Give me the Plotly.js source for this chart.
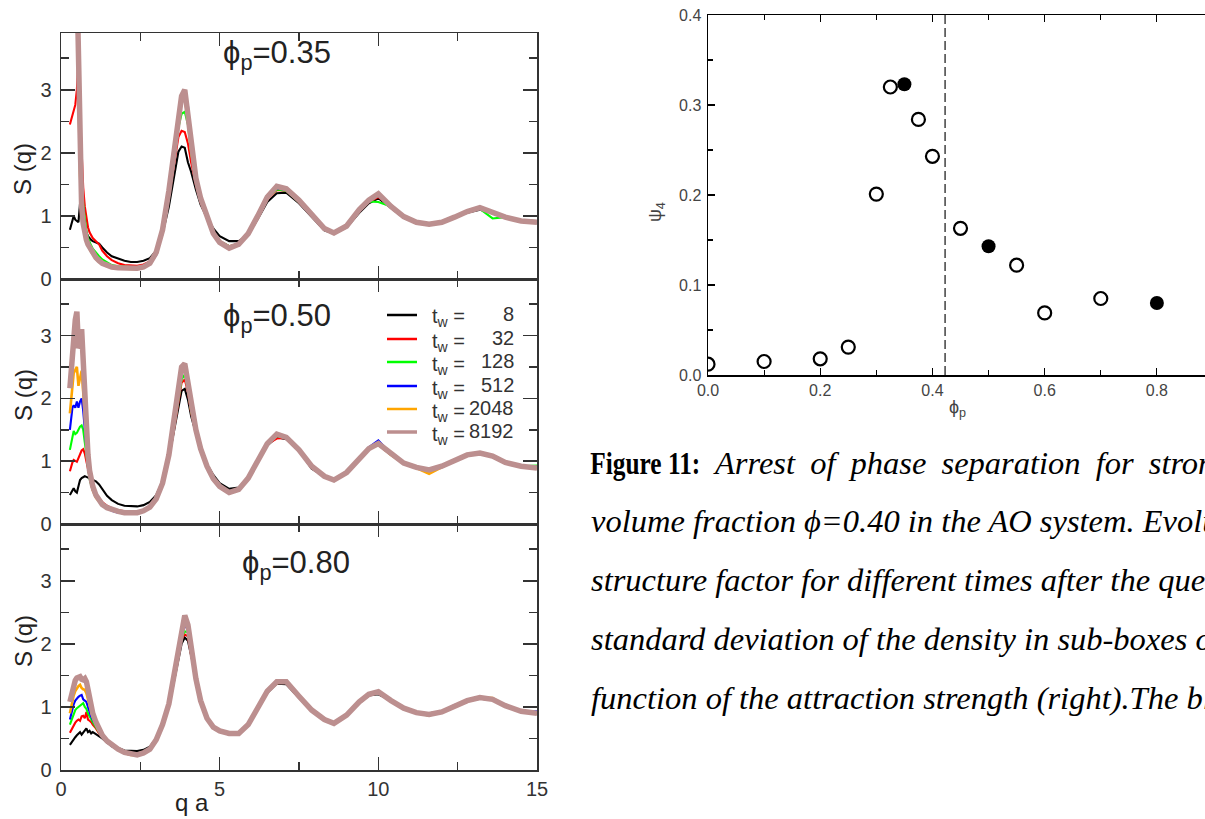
<!DOCTYPE html>
<html><head><meta charset="utf-8">
<script src="https://cdn.plot.ly/plotly-3.0.1.min.js"></script>
<style>html,body{margin:0;padding:0;overflow:hidden;background:#fff;width:1205px;height:819px}</style>
</head><body><div id="chart" style="width:1230px;height:819px"></div>
<script>
// ---------- data ----------
const q = [0.28,0.32,0.36,0.4,0.45,0.5,0.55,0.6,0.65,0.7,0.75,0.8,0.85,0.9,0.95,
 1.0,1.1,1.2,1.3,1.45,
 1.6,1.8,2.0,2.2,2.4,2.6,2.8,
 3.0,3.2,3.4,3.55,3.7,3.8,3.9,4.0,4.1,4.25,4.4,4.6,4.8,
 5.0,5.3,5.6,5.9,6.2,6.5,6.8,7.1,7.5,7.9,8.3,8.6,
 9.0,9.4,9.7,10.0,10.4,10.8,11.2,11.6,12.0,12.4,12.8,13.2,13.6,14.0,14.5,15.0];

const twValues = ['8','32','128','512','2048','8192'];
const twPrefix = 't<sub>w</sub> =';
const panelLabels = ['\u03d5<sub>p</sub>=0.35','\u03d5<sub>p</sub>=0.50','\u03d5<sub>p</sub>=0.80'];

// phi_p = 0.35
const p35_black = [0.78,0.86,0.93,1.0,0.94,0.92,0.9,1.2,1.3,1.05,0.85,0.74,0.68,0.64,0.62,
 0.6,0.58,0.56,0.5,0.42,
 0.36,0.32,0.29,0.27,0.27,0.29,0.33,
 0.45,0.72,1.15,1.6,2.02,2.1,2.08,1.85,1.7,1.42,1.18,0.97,0.8,
 0.68,0.6,0.6,0.7,0.95,1.22,1.36,1.37,1.2,0.98,0.77,0.72,
 0.82,1.05,1.2,1.28,1.13,0.97,0.89,0.87,0.9,0.97,1.05,1.1,1.05,0.98,0.93,0.92];
const p35_red = [2.45,2.52,2.6,2.68,2.76,3.0,3.5,2.6,1.9,1.45,1.15,0.95,0.82,0.74,0.69,
 0.65,0.6,0.55,0.45,0.36,
 0.3,0.25,0.22,0.21,0.21,0.23,0.28,
 0.42,0.75,1.3,1.8,2.25,2.35,2.33,2.15,1.85,1.5,1.22,0.96,0.74,
 0.6,0.52,0.56,0.72,1.0,1.27,1.41,1.4,1.22,1.0,0.79,0.72,
 0.83,1.07,1.22,1.3,1.14,0.98,0.89,0.87,0.9,0.98,1.06,1.11,1.05,0.97,0.92,0.9];
const p35_green = [8,7.6,7.2,6.5,5.5,4.4,3.4,2.4,1.6,1.18,0.92,0.76,0.65,0.58,0.53,
 0.48,0.41,0.36,0.31,0.26,
 0.22,0.2,0.19,0.18,0.18,0.2,0.25,
 0.4,0.74,1.3,1.85,2.4,2.62,2.65,2.45,2.0,1.6,1.27,0.98,0.74,
 0.6,0.52,0.55,0.72,0.99,1.28,1.42,1.4,1.22,1.05,0.8,0.73,
 0.84,1.09,1.23,1.22,1.15,0.98,0.9,0.87,0.9,0.98,1.07,1.11,0.96,0.98,0.92,0.9];
const p35_blue = [9,8.8,8.2,7.2,5.8,4.6,3.3,2.1,1.4,1.02,0.8,0.67,0.58,0.52,0.47,
 0.42,0.35,0.3,0.26,0.22,
 0.19,0.17,0.16,0.16,0.16,0.18,0.23,
 0.38,0.72,1.3,1.9,2.5,2.85,2.95,2.75,2.1,1.63,1.3,0.99,0.74,
 0.59,0.5,0.53,0.72,1.0,1.29,1.44,1.41,1.23,1.04,0.78,0.74,
 0.83,1.08,1.26,1.32,1.14,0.99,0.9,0.86,0.9,0.99,1.06,1.11,1.05,0.99,0.92,0.9];
const p35_orange = [9,9,8.5,7.4,5.9,4.4,2.8,1.65,1.12,0.86,0.7,0.6,0.53,0.48,0.43,
 0.39,0.32,0.27,0.24,0.21,
 0.18,0.17,0.16,0.16,0.16,0.18,0.24,
 0.41,0.76,1.38,1.98,2.55,2.82,2.85,2.55,2.02,1.62,1.27,0.97,0.73,
 0.57,0.5,0.54,0.73,1.01,1.28,1.45,1.42,1.24,1.02,0.79,0.72,
 0.85,1.09,1.24,1.33,1.16,0.98,0.89,0.88,0.91,0.97,1.08,1.12,1.07,0.97,0.93,0.91];
const p35_brown = [9,9,8.6,7.5,6,4.5,2.9,1.7,1.15,0.88,0.72,0.62,0.55,0.5,0.45,
 0.41,0.34,0.29,0.25,0.22,
 0.19,0.18,0.17,0.17,0.17,0.19,0.25,
 0.42,0.78,1.4,2.0,2.6,2.9,3.0,2.6,2.05,1.6,1.28,0.98,0.72,
 0.58,0.49,0.55,0.72,1.0,1.3,1.47,1.43,1.25,1.03,0.8,0.73,
 0.84,1.1,1.25,1.35,1.15,0.99,0.9,0.87,0.9,0.98,1.07,1.13,1.06,0.98,0.92,0.9];

// phi_p = 0.50
const p50_black = [0.46,0.5,0.55,0.57,0.52,0.5,0.6,0.7,0.73,0.75,0.76,0.75,0.74,0.73,0.72,
 0.71,0.68,0.63,0.55,0.45,
 0.38,0.32,0.29,0.28,0.28,0.3,0.35,
 0.46,0.68,1.05,1.45,1.9,2.12,2.15,1.98,1.72,1.43,1.17,0.95,0.78,
 0.65,0.56,0.58,0.74,0.98,1.25,1.38,1.35,1.17,0.88,0.76,0.7,
 0.82,1.04,1.19,1.26,1.1,0.97,0.9,0.87,0.92,1.01,1.09,1.12,1.07,0.98,0.93,0.9];
const p50_red = [0.84,0.92,0.98,1.02,1.0,0.99,1.05,1.12,1.17,1.19,1.12,1.0,0.86,0.74,0.64,
 0.58,0.48,0.41,0.35,0.29,
 0.25,0.22,0.2,0.19,0.2,0.22,0.28,
 0.41,0.65,1.05,1.48,1.95,2.25,2.3,2.1,1.78,1.45,1.18,0.92,0.72,
 0.6,0.51,0.56,0.73,1.0,1.27,1.36,1.37,1.18,0.92,0.76,0.7,
 0.82,1.05,1.2,1.27,1.11,0.97,0.9,0.86,0.92,1.02,1.1,1.13,1.08,0.98,0.92,0.89];
const p50_green = [1.18,1.3,1.4,1.48,1.43,1.45,1.5,1.55,1.57,1.5,1.3,1.08,0.88,0.72,0.62,
 0.55,0.45,0.38,0.32,0.27,
 0.22,0.2,0.18,0.18,0.18,0.21,0.27,
 0.4,0.64,1.05,1.5,2.0,2.3,2.38,2.15,1.8,1.46,1.18,0.92,0.72,
 0.6,0.51,0.55,0.73,1.0,1.27,1.4,1.37,1.18,0.92,0.76,0.7,
 0.82,1.05,1.2,1.27,1.11,0.97,0.9,0.86,0.92,1.02,1.1,1.13,1.08,0.98,0.92,0.93];
const p50_blue = [1.5,1.7,1.85,1.89,1.85,1.95,1.85,1.95,2.0,1.8,1.5,1.18,0.92,0.74,0.62,
 0.54,0.43,0.36,0.31,0.26,
 0.21,0.18,0.17,0.16,0.17,0.2,0.26,
 0.38,0.63,1.05,1.55,2.1,2.4,2.45,2.2,1.82,1.47,1.18,0.92,0.72,
 0.6,0.5,0.55,0.74,1.01,1.3,1.42,1.38,1.2,0.93,0.75,0.7,
 0.83,1.06,1.22,1.33,1.12,0.98,0.9,0.87,0.93,1.02,1.1,1.14,1.08,0.99,0.93,0.9];
const p50_orange = [1.76,2.0,2.25,2.4,2.45,2.5,2.2,2.3,2.44,2.1,1.7,1.3,0.98,0.77,0.63,
 0.54,0.42,0.35,0.3,0.25,
 0.22,0.19,0.17,0.17,0.18,0.2,0.26,
 0.39,0.64,1.08,1.58,2.15,2.45,2.48,2.22,1.83,1.48,1.19,0.93,0.71,
 0.59,0.49,0.54,0.72,1.0,1.27,1.41,1.37,1.17,0.92,0.75,0.69,
 0.82,1.04,1.21,1.27,1.1,0.96,0.89,0.8,0.91,1.01,1.09,1.12,1.07,0.97,0.92,0.89];
const p50_brown = [2.16,2.45,2.8,3.05,3.25,3.38,2.8,2.85,3.1,2.6,2.0,1.5,1.1,0.85,0.7,
 0.6,0.46,0.37,0.31,0.26,
 0.23,0.2,0.18,0.17,0.18,0.21,0.27,
 0.4,0.65,1.1,1.6,2.2,2.5,2.55,2.25,1.85,1.5,1.2,0.92,0.72,
 0.6,0.5,0.55,0.73,1.0,1.28,1.43,1.38,1.18,0.92,0.76,0.7,
 0.82,1.05,1.2,1.28,1.12,0.97,0.9,0.86,0.92,1.02,1.1,1.13,1.08,0.98,0.92,0.89];

// phi_p = 0.80
const p80_black = [0.4,0.43,0.47,0.5,0.52,0.55,0.57,0.6,0.56,0.6,0.62,0.66,0.6,0.62,0.58,
 0.6,0.57,0.54,0.5,0.44,
 0.4,0.35,0.31,0.3,0.3,0.32,0.37,
 0.5,0.72,1.0,1.38,1.8,2.0,2.1,2.05,1.82,1.43,1.1,0.84,0.7,
 0.62,0.56,0.57,0.71,0.98,1.22,1.37,1.36,1.14,0.94,0.8,0.74,
 0.86,1.06,1.18,1.2,1.1,0.97,0.9,0.9,0.93,1.02,1.09,1.13,1.11,1.03,0.94,0.9];
const p80_red = [0.59,0.63,0.68,0.7,0.75,0.78,0.8,0.78,0.85,0.86,0.82,0.92,0.8,0.78,0.76,
 0.72,0.66,0.58,0.52,0.44,
 0.38,0.32,0.27,0.25,0.25,0.28,0.34,
 0.48,0.71,1.02,1.42,1.85,2.08,2.15,2.12,1.83,1.43,1.09,0.82,0.68,
 0.62,0.57,0.58,0.73,1.0,1.24,1.38,1.39,1.17,0.95,0.8,0.74,
 0.86,1.07,1.18,1.22,1.1,0.98,0.9,0.87,0.92,1.02,1.1,1.14,1.12,1.02,0.93,0.9];
const p80_green = [0.72,0.78,0.84,0.9,0.95,0.98,1.0,1.03,1.05,1.06,1.0,0.97,0.9,0.85,0.8,
 0.76,0.68,0.6,0.52,0.44,
 0.38,0.32,0.27,0.24,0.24,0.27,0.33,
 0.47,0.7,1.02,1.42,1.85,2.1,2.2,2.18,1.85,1.44,1.09,0.82,0.68,
 0.62,0.57,0.57,0.72,1.0,1.24,1.39,1.39,1.17,0.95,0.8,0.74,
 0.86,1.07,1.19,1.24,1.1,0.98,0.9,0.86,0.92,1.02,1.1,1.15,1.12,1.02,0.93,0.9];
const p80_blue = [0.8,0.88,0.97,1.04,1.1,1.14,1.16,1.18,1.19,1.12,1.1,1.08,1.0,0.92,0.85,
 0.8,0.7,0.6,0.52,0.44,
 0.38,0.32,0.27,0.24,0.24,0.27,0.33,
 0.47,0.7,1.03,1.45,1.9,2.15,2.3,2.22,1.87,1.44,1.09,0.82,0.68,
 0.63,0.58,0.58,0.72,1.0,1.25,1.39,1.4,1.17,0.95,0.8,0.74,
 0.87,1.07,1.2,1.25,1.1,0.98,0.91,0.88,0.92,1.03,1.09,1.14,1.12,1.02,0.92,0.93];
const p80_orange = [0.9,1.0,1.1,1.18,1.25,1.3,1.33,1.35,1.3,1.28,1.27,1.22,1.12,1.0,0.92,
 0.84,0.72,0.62,0.53,0.45,
 0.39,0.32,0.27,0.24,0.24,0.27,0.33,
 0.48,0.72,1.05,1.48,1.92,2.2,2.38,2.25,1.88,1.45,1.1,0.82,0.68,
 0.62,0.57,0.58,0.72,1.0,1.24,1.38,1.39,1.18,0.94,0.79,0.73,
 0.86,1.07,1.19,1.24,1.1,0.98,0.9,0.87,0.93,1.02,1.1,1.15,1.14,1.02,0.93,0.9];
const p80_brown = [1.08,1.18,1.28,1.35,1.42,1.46,1.47,1.48,1.44,1.43,1.45,1.4,1.28,1.12,1.0,
 0.9,0.76,0.64,0.55,0.46,
 0.4,0.33,0.28,0.25,0.24,0.27,0.33,
 0.48,0.72,1.05,1.5,1.95,2.25,2.45,2.3,1.9,1.45,1.1,0.82,0.68,
 0.62,0.58,0.58,0.72,1.0,1.25,1.4,1.4,1.17,0.95,0.8,0.74,
 0.87,1.08,1.2,1.24,1.1,0.98,0.91,0.88,0.92,1.02,1.1,1.15,1.12,1.02,0.93,0.9];

// right panel: psi_4 vs phi_p
const phiOpen = [0.0,0.1,0.2,0.25,0.3,0.325,0.375,0.4,0.45,0.55,0.6,0.7];
const psiOpen = [0.012,0.015,0.018,0.031,0.201,0.320,0.284,0.243,0.163,0.122,0.069,0.085];
const phiFilled = [0.35,0.5,0.8];
const psiFilled = [0.323,0.143,0.080];
const phiDash = [0.4225,0.4225];
const psiDash = [0,0.4];

const captionBold = 'Figure 11:';
const captionLines = [
 'Arrest of phase separation for strong attraction at colloid',
 'volume fraction \u03d5=0.40 in the AO system. Evolution of the',
 'structure factor for different times after the quench (left),',
 'standard deviation of the density in sub-boxes of size 5 as a',
 'function of the attraction strength (right).The black symbols'
];

// ---------- styles / geometry ----------
const W = 1230, H = 819;
const px = v => v / W, py = v => 1 - v / H;
const colors = ['#000000','#ff0000','#00ff00','#0000ff','#ffa500','#bc8f8f'];
const widths = [2.1,2.1,2.1,2.1,2.6,5.5];
const legendWidths = [2.5,2.5,2.5,2.5,2.5,3.5];
const panelSeries = [
  [p35_black,p35_red,p35_green,p35_blue,p35_orange,p35_brown],
  [p50_black,p50_red,p50_green,p50_blue,p50_orange,p50_brown],
  [p80_black,p80_red,p80_green,p80_blue,p80_orange,p80_brown]
];
const panelAxes = [['x3','y3'],['x2','y2'],['x','y']];

const traces = [];
panelSeries.forEach((ser, pi) => {
  ser.forEach((s, si) => {
    traces.push({
      x: q, y: s, type: 'scatter', mode: 'lines',
      xaxis: panelAxes[pi][0], yaxis: panelAxes[pi][1],
      line: {color: colors[si], width: widths[si]},
      name: twPrefix + ' ' + twValues[si], showlegend: false, hoverinfo: 'skip'
    });
  });
});
traces.push({x: phiDash, y: psiDash, xaxis: 'x4', yaxis: 'y4', type: 'scatter', mode: 'lines',
  line: {color: '#111', width: 1.2, dash: '9px,4px'}, showlegend: false});
traces.push({x: phiOpen, y: psiOpen, xaxis: 'x4', yaxis: 'y4', type: 'scatter', mode: 'markers',
  marker: {symbol: 'circle-open', size: 13, color: '#000', line: {width: 2.2, color: '#000'}}, showlegend: false});
traces.push({x: phiFilled, y: psiFilled, xaxis: 'x4', yaxis: 'y4', type: 'scatter', mode: 'markers',
  marker: {symbol: 'circle', size: 14, color: '#000'}, showlegend: false});

const leftFont = {family: 'Liberation Sans, Arial, sans-serif', size: 20, color: '#333'};
function leftX(showLabels, anchor) {
  return {domain: [px(61), px(537)], range: [0, 15], anchor: anchor,
    showline: true, linecolor: '#333', linewidth: 1.5, mirror: 'allticks',
    ticks: 'inside', ticklen: 13, tickwidth: 1.5, tickcolor: '#333',
    tick0: 0, dtick: 5, minor: {dtick: 2.5, ticks: 'inside', ticklen: 8, tickwidth: 1.5, tickcolor: '#333'},
    showticklabels: showLabels, tickfont: leftFont, showgrid: false, zeroline: false};
}
function leftY(top, bottom, anchor) {
  return {domain: [py(bottom), py(top)], range: [0, 3.9], anchor: anchor,
    showline: true, linecolor: '#333', linewidth: 1.5, mirror: 'allticks',
    ticks: 'inside', ticklen: 14, tickwidth: 1.5, tickcolor: '#333',
    tick0: 0, dtick: 1, minor: {dtick: 0.5, ticks: 'inside', ticklen: 8, tickwidth: 1.5, tickcolor: '#333'},
    tickfont: leftFont, ticklabelstandoff: 4, showgrid: false, zeroline: false};
}
const rightFont = {family: 'Liberation Sans Narrow, Arial Narrow, Liberation Sans, sans-serif', size: 16, color: '#444'};
const rightTitleFont = {family: 'Liberation Sans Narrow, Arial Narrow, Liberation Sans, sans-serif', size: 18, color: '#444'};

const annotations = [];
const shapes = [];
const titleFont = {family: 'Liberation Sans, Arial, sans-serif', size: 24, color: '#222'};
[169, 395, 641].forEach(yc => annotations.push({text: 'S (q)', xref: 'paper', yref: 'paper',
  x: px(23), y: py(yc), textangle: -90, showarrow: false, font: titleFont, xanchor: 'center', yanchor: 'middle'}));
annotations.push({text: 'q a', xref: 'paper', yref: 'paper', x: px(192), y: py(802), showarrow: false,
  font: titleFont, xanchor: 'center', yanchor: 'middle'});
[[221, 55], [221, 318], [240, 565]].forEach((p, i) => annotations.push({text: panelLabels[i], xref: 'paper', yref: 'paper',
  x: px(p[0]), y: py(p[1]), showarrow: false, xanchor: 'left', yanchor: 'middle',
  font: {family: 'Liberation Sans, Arial, sans-serif', size: 31, color: '#222'}}));

// legend (drawn by hand inside the middle panel)
const legRows = [315, 339, 362, 386, 409, 432];
twValues.forEach((v, i) => {
  shapes.push({type: 'line', xref: 'paper', yref: 'paper', x0: px(387), x1: px(417), y0: py(legRows[i]), y1: py(legRows[i]),
    line: {color: colors[i], width: legendWidths[i]}});
  annotations.push({text: twPrefix, xref: 'paper', yref: 'paper', x: px(430), y: py(legRows[i] + 3), showarrow: false,
    xanchor: 'left', yanchor: 'middle', font: {family: 'Liberation Sans, Arial, sans-serif', size: 20, color: '#333'}});
  annotations.push({text: v, xref: 'paper', yref: 'paper', x: px(516), y: py(legRows[i] - 1), showarrow: false,
    xanchor: 'right', yanchor: 'middle', font: {family: 'Liberation Sans, Arial, sans-serif', size: 20, color: '#333'}});
});

annotations.push({text: '\u03c8<sub>4</sub>', xref: 'paper', yref: 'paper', x: px(657), y: py(212), textangle: -90,
  showarrow: false, font: rightTitleFont, xanchor: 'center', yanchor: 'middle'});
annotations.push({text: '\u03d5<sub>p</sub>', xref: 'paper', yref: 'paper', x: px(957), y: py(408),
  showarrow: false, font: rightTitleFont, xanchor: 'center', yanchor: 'middle'});

// caption
const capRows = [463, 521, 580, 639, 698];
annotations.push({text: '<b>' + captionBold + '</b>', xref: 'paper', yref: 'paper', x: px(645), y: py(capRows[0]),
  showarrow: false, xanchor: 'center', yanchor: 'middle',
  font: {family: 'Liberation Serif, Times New Roman, serif', size: 31, color: '#000'}});
capRows.forEach((yc, i) => annotations.push({text: '<i>' + captionLines[i] + '</i>', xref: 'paper', yref: 'paper',
  x: px(i === 0 ? 711 : 589), y: py(yc), showarrow: false, xanchor: 'left', yanchor: 'middle', align: 'left',
  font: {family: 'Liberation Serif, Times New Roman, serif', size: 32.5, color: '#000'}}));

const layout = {
  width: W, height: H, margin: {l: 0, r: 0, t: 0, b: 0},
  paper_bgcolor: '#fff', plot_bgcolor: 'rgba(0,0,0,0)',
  showlegend: false,
  xaxis: leftX(true, 'y'), yaxis: leftY(524, 770, 'x'),
  xaxis2: leftX(false, 'y2'), yaxis2: leftY(279, 524, 'x2'),
  xaxis3: leftX(false, 'y3'), yaxis3: leftY(33, 279, 'x3'),
  xaxis4: {domain: [px(708), px(1213)], range: [0, 0.9], anchor: 'y4',
    showline: true, linecolor: '#000', linewidth: 1.5, mirror: 'allticks',
    ticks: 'inside', ticklen: 7, tickwidth: 1.2, tickcolor: '#000',
    tick0: 0, dtick: 0.2, tickformat: '.1f', minor: {dtick: 0.1, ticks: 'inside', ticklen: 5, tickwidth: 1.2, tickcolor: '#000'},
    tickfont: rightFont, showgrid: false, zeroline: false},
  yaxis4: {domain: [py(375), py(15)], range: [0, 0.4], anchor: 'x4',
    showline: true, linecolor: '#000', linewidth: 1.5, mirror: 'allticks',
    ticks: 'inside', ticklen: 7, tickwidth: 1.2, tickcolor: '#000',
    tick0: 0, dtick: 0.1, tickformat: '.1f', minor: {dtick: 0.05, ticks: 'inside', ticklen: 5, tickwidth: 1.2, tickcolor: '#000'},
    tickfont: rightFont, ticklabelstandoff: 2, showgrid: false, zeroline: false},
  annotations: annotations,
  shapes: shapes
};

Plotly.newPlot('chart', traces, layout, {displayModeBar: false, staticPlot: true}).then(gd => {
  // the caption in the source is typeset narrow / justified: squeeze the bold label, widen line 1 spacing
  document.querySelectorAll('.annotation-text').forEach(t => {
    if (t.textContent === captionBold) {
      t.setAttribute('textLength', '110');
      t.setAttribute('lengthAdjust', 'spacingAndGlyphs');
    }
    if (t.textContent === captionLines[0]) {
      t.style.wordSpacing = '7px';
    }
  });
});
</script></body></html>
